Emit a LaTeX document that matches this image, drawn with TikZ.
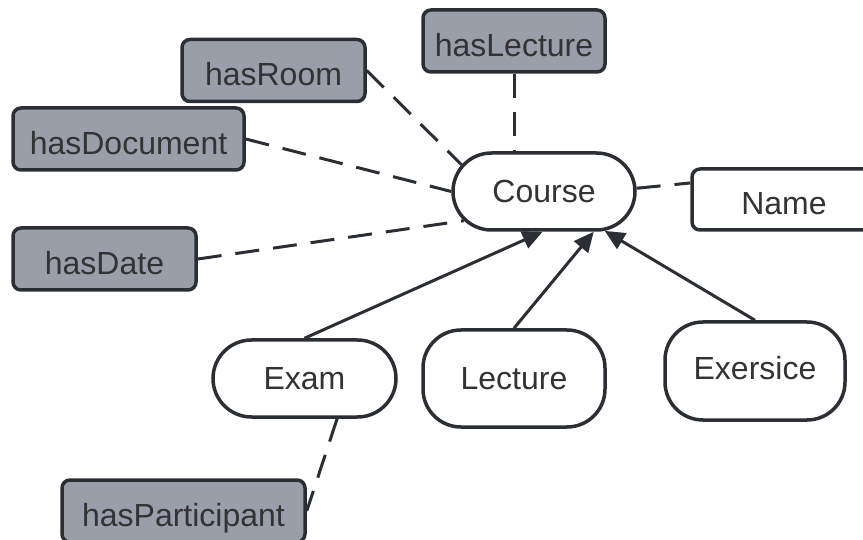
\documentclass[tikz,border=0pt]{standalone}
\usepackage{fontspec}
\setmainfont{Liberation Sans}
\usetikzlibrary{arrows.meta,shapes.misc}

\definecolor{ink}{HTML}{2B2E33}
\definecolor{slot}{HTML}{9A9EA8}
\definecolor{txt}{HTML}{333333}

\begin{document}
\begin{tikzpicture}[x=1pt,y=-1pt,
  every node/.style={font=\fontsize{32}{38}\selectfont, text=txt, inner sep=0pt},
  low/.style={text height=31pt, text depth=0pt},
  prop/.style={low, draw=ink, line width=3.5pt, fill=slot, rounded corners=8pt, minimum height=62pt},
  cls/.style={draw=ink, line width=3.5pt, fill=white, rounded rectangle, minimum width=182pt, minimum height=77pt},
  sub/.style={draw=ink, line width=3.5pt, fill=white, rounded corners=38pt, minimum width=182pt, minimum height=97pt},
  attr/.style={low, draw=ink, line width=3.5pt, fill=white, rounded corners=8pt, minimum width=184pt, minimum height=61pt},
  link/.style={draw=ink, line width=3pt, dash pattern=on 24pt off 14pt},
  isa/.style={draw=ink, line width=3pt, -{Triangle[length=20pt,width=18pt]}}]

\useasboundingbox (0,0) rectangle (863,540);

% property boxes
\node[prop, minimum width=182pt] (haslecture) at (514,41) {hasLecture};
\node[prop, minimum width=183pt] (hasroom) at (273.5,70.5) {hasRoom};
\node[prop, minimum width=231pt] (hasdocument) at (128.5,139) {hasDocument};
\node[prop, minimum width=183pt] (hasdate) at (104.5,259) {hasDate};
\node[prop, minimum width=243pt] (hasparticipant) at (183.5,511) {hasParticipant};

% classes
\node[cls] (course) at (544,191.5) {Course};
\node[attr] (name) at (784,199.5) {Name};
\node[cls, minimum width=183pt] (exam) at (304.5,378.5) {Exam};
\node[sub] (lecture) at (514,378.5) {Lecture};
\node[sub, minimum width=180pt, minimum height=98pt, text depth=6pt] (exersice) at (755,371) {Exersice};

% properties of Course
\draw[link] (haslecture.south) -- (haslecture.south |- course.north);
\draw[link] (hasroom.east) -- (course.162);
\draw[link] (hasdocument.east) -- (course.west);
\draw[link] (hasdate.east) -- (course.200);
\draw[link] (course.2) -- (name.170);

% property of Exam
\draw[link] (exam.309) -- (hasparticipant.east);

% subclasses
\draw[isa] (exam.north) -- (course.268);
\draw[isa] (lecture.north) -- (course.321);
\draw[isa] (exersice.north) -- (course.327);
\end{tikzpicture}
\end{document}
